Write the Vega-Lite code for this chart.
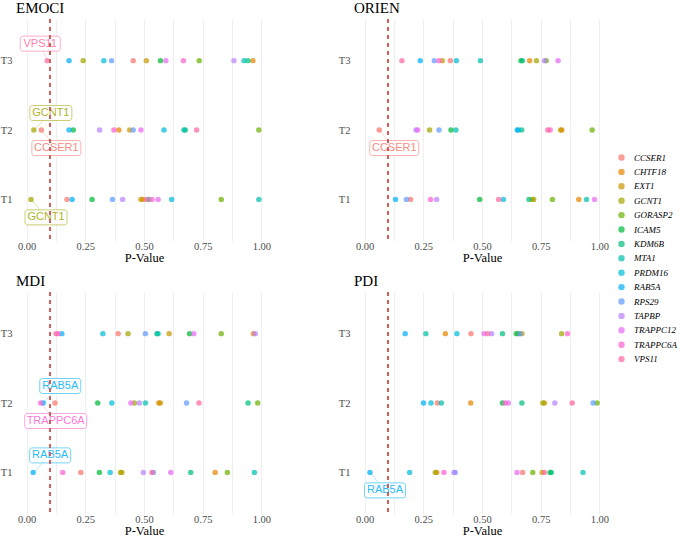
{
  "$schema": "https://vega.github.io/schema/vega-lite/v6.json",
  "padding": {"left": 0, "top": 0, "right": 0, "bottom": 0},
  "background": "white",
  "data": {"values": [
    {"test":"EMOCI","time":"T3","above":"","aboveLeft":"VPS11","CCSER1":0.454,"CHTF18":0.964,"EXT1":0.51,"GCNT1":0.241,"GORASP2":0.735,"ICAM5":0.57,"KDM6B":0.943,"MTA1":0.926,"PRDM16":0.329,"RAB5A":0.181,"RPS29":0.362,"TAPBP":0.883,"TRAPPC12":0.593,"TRAPPC6A":0.668,"VPS11":0.088},
    {"test":"EMOCI","time":"T2","above":"GCNT1","aboveLeft":"","CCSER1":0.063,"CHTF18":0.393,"EXT1":0.439,"GCNT1":0.031,"GORASP2":0.989,"ICAM5":0.199,"KDM6B":0.676,"MTA1":0.67,"PRDM16":0.585,"RAB5A":0.181,"RPS29":0.454,"TAPBP":0.311,"TRAPPC12":0.487,"TRAPPC6A":0.372,"VPS11":0.724},
    {"test":"EMOCI","time":"T1","above":"","aboveLeft":"","CCSER1":0.172,"CHTF18":0.495,"EXT1":0.487,"GCNT1":0.019,"GORASP2":0.829,"ICAM5":0.279,"KDM6B":0.52,"MTA1":0.989,"PRDM16":0.618,"RAB5A":0.194,"RPS29":0.366,"TAPBP":0.409,"TRAPPC12":0.56,"TRAPPC6A":0.534,"VPS11":0.511},
    {"test":"ORIEN","time":"T3","above":"","aboveLeft":"","CCSER1":0.365,"CHTF18":0.703,"EXT1":0.331,"GCNT1":0.732,"GORASP2":0.773,"ICAM5":0.666,"KDM6B":0.672,"MTA1":0.493,"PRDM16":0.391,"RAB5A":0.237,"RPS29":0.297,"TAPBP":0.766,"TRAPPC12":0.824,"TRAPPC6A":0.317,"VPS11":0.159},
    {"test":"ORIEN","time":"T2","above":"","aboveLeft":"","CCSER1":0.0625,"CHTF18":0.84,"EXT1":0.835,"GCNT1":0.277,"GORASP2":0.969,"ICAM5":0.368,"KDM6B":0.669,"MTA1":0.389,"PRDM16":0.655,"RAB5A":0.65,"RPS29":0.317,"TAPBP":0.219,"TRAPPC12":0.226,"TRAPPC6A":0.79,"VPS11":0.78},
    {"test":"ORIEN","time":"T1","above":"","aboveLeft":"","CCSER1":0.196,"CHTF18":0.912,"EXT1":0.714,"GCNT1":0.72,"GORASP2":0.8,"ICAM5":0.49,"KDM6B":0.7,"MTA1":0.945,"PRDM16":0.591,"RAB5A":0.132,"RPS29":0.178,"TAPBP":0.307,"TRAPPC12":0.979,"TRAPPC6A":0.281,"VPS11":0.571},
    {"test":"MDI","time":"T3","above":"","aboveLeft":"","CCSER1":0.39,"CHTF18":0.966,"EXT1":0.607,"GCNT1":0.432,"GORASP2":0.829,"ICAM5":0.694,"KDM6B":0.555,"MTA1":0.56,"PRDM16":0.325,"RAB5A":0.15,"RPS29":0.506,"TAPBP":0.974,"TRAPPC12":0.712,"TRAPPC6A":0.134,"VPS11":0.125},
    {"test":"MDI","time":"T2","above":"RAB5A","aboveLeft":"","CCSER1":0.121,"CHTF18":0.563,"EXT1":0.57,"GCNT1":0.459,"GORASP2":0.984,"ICAM5":0.303,"KDM6B":0.943,"MTA1":0.506,"PRDM16":0.363,"RAB5A":0.071,"RPS29":0.681,"TAPBP":0.48,"TRAPPC12":0.444,"TRAPPC6A":0.06,"VPS11":0.734},
    {"test":"MDI","time":"T1","above":"RAB5A","aboveLeft":"","CCSER1":0.231,"CHTF18":0.803,"EXT1":0.406,"GCNT1":0.4,"GORASP2":0.855,"ICAM5":0.31,"KDM6B":0.699,"MTA1":0.97,"PRDM16":0.356,"RAB5A":0.028,"RPS29":0.54,"TAPBP":0.497,"TRAPPC12":0.614,"TRAPPC6A":0.154,"VPS11":0.534},
    {"test":"PDI","time":"T3","above":"","aboveLeft":"","CCSER1":0.453,"CHTF18":0.344,"EXT1":0.67,"GCNT1":0.839,"GORASP2":0.655,"ICAM5":0.646,"KDM6B":0.587,"MTA1":0.261,"PRDM16":0.393,"RAB5A":0.173,"RPS29":0.662,"TAPBP":0.541,"TRAPPC12":0.509,"TRAPPC6A":0.864,"VPS11":0.524},
    {"test":"PDI","time":"T2","above":"","aboveLeft":"","CCSER1":0.31,"CHTF18":0.452,"EXT1":0.766,"GCNT1":0.759,"GORASP2":0.99,"ICAM5":0.587,"KDM6B":0.67,"MTA1":0.327,"PRDM16":0.283,"RAB5A":0.251,"RPS29":0.973,"TAPBP":0.81,"TRAPPC12":0.612,"TRAPPC6A":0.599,"VPS11":0.884},
    {"test":"PDI","time":"T1","above":"","aboveLeft":"","CCSER1":0.673,"CHTF18":0.307,"EXT1":0.756,"GCNT1":0.301,"GORASP2":0.716,"ICAM5":0.79,"KDM6B":0.795,"MTA1":0.93,"PRDM16":0.192,"RAB5A":0.023,"RPS29":0.386,"TAPBP":0.381,"TRAPPC12":0.649,"TRAPPC6A":0.338,"VPS11":0.766}
  ]},
  "transform": [
    {"fold": ["CCSER1","CHTF18","EXT1","GCNT1","GORASP2","ICAM5","KDM6B","MTA1","PRDM16","RAB5A","RPS29","TAPBP","TRAPPC12","TRAPPC6A","VPS11"], "as": ["gene","p"]}
  ],
  "facet": {
    "field": "test",
    "type": "nominal",
    "sort": ["EMOCI","ORIEN","MDI","PDI"],
    "header": {"title": null, "labelFont": "Liberation Serif", "labelFontSize": 15, "labelColor": "black", "labelAnchor": "start", "labelPadding": 3}
  },
  "columns": 2,
  "spacing": {"row": 9, "column": 66},
  "resolve": {"axis": {"x": "independent", "y": "independent"}},
  "spec": {
    "width": 256,
    "height": 222,
    "encoding": {
      "x": {"field": "p", "type": "quantitative", "title": "P-Value",
        "scale": {"domain": [-0.045, 1.045], "nice": false, "zero": false},
        "axis": {"values": [0,0.125,0.25,0.375,0.5,0.625,0.75,0.875,1], "labelExpr": "(datum.value * 4) % 1 === 0 ? format(datum.value, '.2f') : ''", "labelOverlap": false, "labelFlush": false}},
      "y": {"field": "time", "type": "ordinal", "title": null,
        "scale": {"type": "point", "domain": ["T3","T2","T1"], "padding": 0.6}},
      "color": {"field": "gene", "type": "nominal",
        "scale": {"domain": ["CCSER1","CHTF18","EXT1","GCNT1","GORASP2","ICAM5","KDM6B","MTA1","PRDM16","RAB5A","RPS29","TAPBP","TRAPPC12","TRAPPC6A","VPS11"],
          "range": ["#F8766D","#E58700","#C99800","#A3A500","#6BB100","#00BA38","#00BF7D","#00C0AF","#00BCD8","#00B0F6","#619CFF","#B983FF","#E76BF3","#FD61D1","#FF67A4"]},
        "legend": {"title": null, "orient": "none", "legendX": 601, "legendY": 134, "symbolType": "circle", "symbolSize": 24, "symbolOpacity": 0.7, "labelFont": "Liberation Serif", "labelFontStyle": "italic", "labelFontSize": 9, "labelColor": "black", "rowPadding": 3.4, "labelOffset": 8}},
      "shape": {"field": "gene", "type": "nominal", "legend": null,
        "scale": {"domain": ["CCSER1","GCNT1","RAB5A","TRAPPC6A","VPS11"],
          "range": [
            "M-2.2,-0.75H2.2A0.25,0.25,0,0,1,2.45,-0.5V0.5A0.25,0.25,0,0,1,2.2,0.75H-2.2A0.25,0.25,0,0,1,-2.45,0.5V-0.5A0.25,0.25,0,0,1,-2.2,-0.75Z",
            "M-1.85,-0.75H1.85A0.25,0.25,0,0,1,2.1,-0.5V0.5A0.25,0.25,0,0,1,1.85,0.75H-1.85A0.25,0.25,0,0,1,-2.1,0.5V-0.5A0.25,0.25,0,0,1,-1.85,-0.75Z",
            "M-1.8,-0.75H1.8A0.25,0.25,0,0,1,2.05,-0.5V0.5A0.25,0.25,0,0,1,1.8,0.75H-1.8A0.25,0.25,0,0,1,-2.05,0.5V-0.5A0.25,0.25,0,0,1,-1.8,-0.75Z",
            "M-2.85,-0.75H2.85A0.25,0.25,0,0,1,3.1,-0.5V0.5A0.25,0.25,0,0,1,2.85,0.75H-2.85A0.25,0.25,0,0,1,-3.1,0.5V-0.5A0.25,0.25,0,0,1,-2.85,-0.75Z",
            "M-1.75,-0.75H1.75A0.25,0.25,0,0,1,2.0,-0.5V0.5A0.25,0.25,0,0,1,1.75,0.75H-1.75A0.25,0.25,0,0,1,-2.0,0.5V-0.5A0.25,0.25,0,0,1,-1.75,-0.75Z"
          ]}}
    },
    "layer": [
      {"mark": {"type": "circle", "size": 30, "opacity": 0.72}, "encoding": {"shape": null}},
      {"transform": [{"filter": "datum.p < 0.1 && datum.gene === datum.above"}],
       "layer": [
         {"mark": {"type": "rule", "x2Offset": 17, "y2Offset": -17, "strokeWidth": 0.6, "opacity": 0.5},
          "encoding": {"x2": {"field": "p"}, "y2": {"field": "time"}, "shape": null}},
         {"mark": {"type": "point", "filled": false, "fill": "white", "fillOpacity": 1, "opacity": 1, "strokeOpacity": 0.55, "strokeWidth": 1, "size": 400, "xOffset": 17, "yOffset": -17}},
         {"mark": {"type": "text", "font": "Liberation Sans", "fontSize": 11, "dx": 17, "dy": -17, "align": "center", "baseline": "middle", "opacity": 0.85},
          "encoding": {"text": {"field": "gene"}, "shape": null}}
       ]},
      {"transform": [{"filter": "datum.p < 0.1 && datum.gene === datum.aboveLeft"}],
       "layer": [
         {"mark": {"type": "rule", "x2Offset": -7, "y2Offset": -17, "strokeWidth": 0.6, "opacity": 0.5},
          "encoding": {"x2": {"field": "p"}, "y2": {"field": "time"}, "shape": null}},
         {"mark": {"type": "point", "filled": false, "fill": "white", "fillOpacity": 1, "opacity": 1, "strokeOpacity": 0.55, "strokeWidth": 1, "size": 400, "xOffset": -7, "yOffset": -17}},
         {"mark": {"type": "text", "font": "Liberation Sans", "fontSize": 11, "dx": -7, "dy": -17, "align": "center", "baseline": "middle", "opacity": 0.85},
          "encoding": {"text": {"field": "gene"}, "shape": null}}
       ]},
      {"transform": [{"filter": "datum.p < 0.1 && datum.gene !== datum.above && datum.gene !== datum.aboveLeft"}],
       "layer": [
         {"mark": {"type": "rule", "x2Offset": 15, "y2Offset": 18, "strokeWidth": 0.6, "opacity": 0.5},
          "encoding": {"x2": {"field": "p"}, "y2": {"field": "time"}, "shape": null}},
         {"mark": {"type": "point", "filled": false, "fill": "white", "fillOpacity": 1, "opacity": 1, "strokeOpacity": 0.55, "strokeWidth": 1, "size": 400, "xOffset": 15, "yOffset": 18}},
         {"mark": {"type": "text", "font": "Liberation Sans", "fontSize": 11, "dx": 15, "dy": 18, "align": "center", "baseline": "middle", "opacity": 0.85},
          "encoding": {"text": {"field": "gene"}, "shape": null}}
       ]},
      {"mark": {"type": "rule", "color": "#d0605a", "strokeDash": [4, 4], "strokeWidth": 0.9},
       "encoding": {"x": {"datum": 0.1}, "y": null, "color": null, "shape": null}}
    ]
  },
  "config": {
    "view": {"stroke": null},
    "axis": {"ticks": false, "domain": false, "gridColor": "#ebebeb", "gridWidth": 0.8,
      "labelFont": "Liberation Serif", "labelFontSize": 10.5, "labelColor": "#4d4d4d",
      "titleFont": "Liberation Serif", "titleFontSize": 12.5, "titleFontWeight": "normal", "titleColor": "black"},
    "axisX": {"labelPadding": 0, "titlePadding": 0},
    "axisY": {"labelPadding": 4}
  }
}
